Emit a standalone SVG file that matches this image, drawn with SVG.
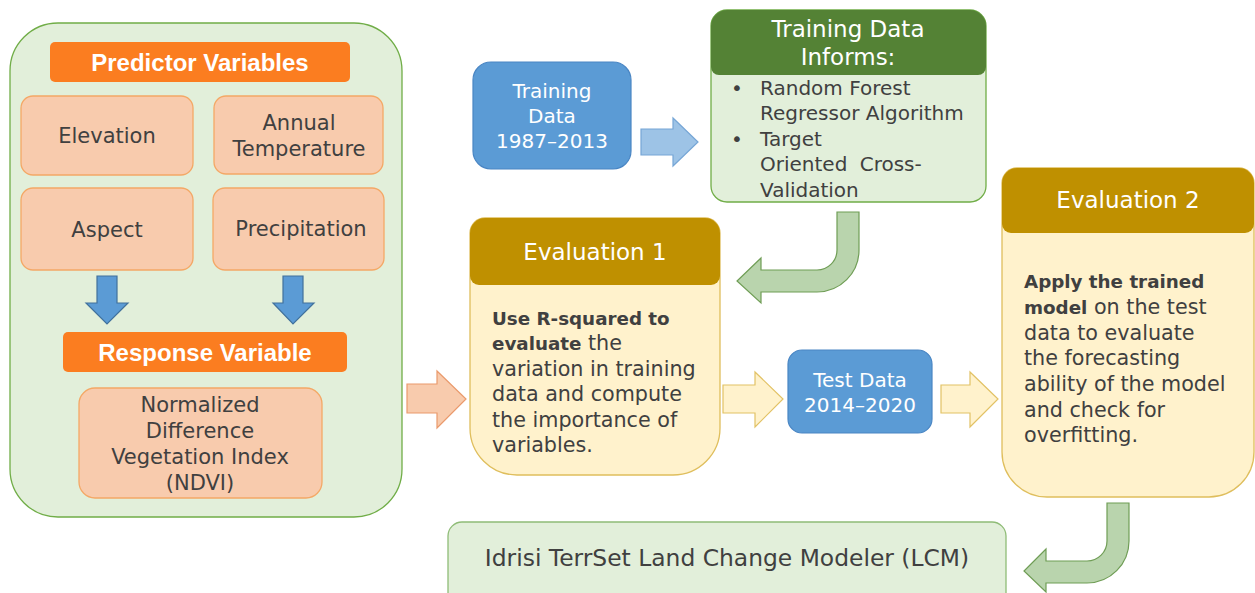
<svg xmlns="http://www.w3.org/2000/svg" width="1255" height="593" viewBox="0 0 1255 593">
  <style>
    .txt { font-family: "DejaVu Sans", "Liberation Sans", sans-serif; fill: #404040; font-size: 20px; }
    .lg { font-size: 21px; }
    .body { font-size: 20.7px; }
    .head { font-size: 23px; }
    .lcm { font-size: 23.4px; }
    .mid { text-anchor: middle; }
    .wh { fill: #ffffff; }
    .hdr { font-family: "Liberation Sans", Arial, sans-serif; font-weight: bold; font-size: 24px; fill: #ffffff; text-anchor: middle; }
    .b { font-weight: bold; font-size: 18.3px; }
    .peach { fill: #f8cbad; stroke: #f4a866; stroke-width: 1.3; }
    .orange { fill: #fb7d20; }
    .blue { fill: #5b9bd5; stroke: #4a86c4; stroke-width: 1.2; }
    .gbody { fill: #e2efda; stroke: #70ad47; stroke-width: 1.3; }
    .ybody { fill: #fff2cc; stroke: #dfbe5c; stroke-width: 1.3; }
    .gold { fill: #bf9000; }
    .uturn { fill: #b9d4ad; stroke: #6f9d55; stroke-width: 1.2; }
    .arr-salmon { fill: #f8cbad; stroke: #ea9a6c; stroke-width: 1.2; }
    .arr-yellow { fill: #fff2cc; stroke: #e2c265; stroke-width: 1.2; }
    .arr-lblue { fill: #9dc3e6; stroke: #76a6d6; stroke-width: 1.2; }
    .arr-down { fill: #5b9bd5; stroke: #41719c; stroke-width: 1.2; }
  </style>

  <!-- Left panel: predictors and response -->
  <g id="variables-panel">
    <rect x="10" y="23" width="392" height="494" rx="48" class="gbody"/>
  </g>
  <g id="predictor-header">
    <rect x="50" y="42" width="300" height="40" rx="5" class="orange"/>
    <text x="200" y="71" class="hdr">Predictor Variables</text>
  </g>
  <g id="elevation">
    <rect x="21" y="96" width="172" height="79" rx="12" class="peach"/>
    <text x="107" y="143" class="txt lg mid">Elevation</text>
  </g>
  <g id="annual-temperature">
    <rect x="214" y="96" width="169" height="78" rx="12" class="peach"/>
    <text x="299" y="130" class="txt lg mid">Annual</text>
    <text x="299" y="156" class="txt lg mid">Temperature</text>
  </g>
  <g id="aspect">
    <rect x="21" y="188" width="172" height="82" rx="12" class="peach"/>
    <text x="107" y="237" class="txt lg mid">Aspect</text>
  </g>
  <g id="precipitation">
    <rect x="213" y="188" width="171" height="82" rx="12" class="peach"/>
    <text x="301" y="236" class="txt lg mid">Precipitation</text>
  </g>
  <g id="response-header">
    <rect x="63" y="332" width="284" height="40" rx="5" class="orange"/>
    <text x="205" y="361" class="hdr">Response Variable</text>
  </g>
  <g id="ndvi">
    <rect x="79" y="388" width="243" height="110" rx="16" class="peach"/>
    <text x="200" y="412" class="txt lg mid">Normalized</text>
    <text x="200" y="438" class="txt lg mid">Difference</text>
    <text x="200" y="464" class="txt lg mid">Vegetation Index</text>
    <text x="200" y="490" class="txt lg mid">(NDVI)</text>
  </g>

  <!-- Training data -->
  <g id="training-data">
    <rect x="473" y="62" width="158" height="107" rx="18" class="blue"/>
    <text x="552" y="98" class="txt mid wh">Training</text>
    <text x="552" y="123" class="txt mid wh">Data</text>
    <text x="552" y="148" class="txt mid wh">1987–2013</text>
  </g>

  <g id="training-informs">
    <rect x="711" y="10" width="275" height="192" rx="16" class="gbody"/>
    <path d="M711,26 A16,16 0 0 1 727,10 H970 A16,16 0 0 1 986,26 V67 A8,8 0 0 1 978,75 H719 A8,8 0 0 1 711,67 Z" fill="#548235"/>
    <text x="848" y="37" class="txt head mid wh">Training Data</text>
    <text x="848" y="65" class="txt head mid wh">Informs:</text>
    <text x="731" y="95" class="txt">•</text>
    <text x="760" y="95" class="txt">Random Forest</text>
    <text x="760" y="120" class="txt">Regressor Algorithm</text>
    <text x="731" y="146" class="txt">•</text>
    <text x="760" y="146" class="txt">Target</text>
    <text x="760" y="171" class="txt" word-spacing="6">Oriented Cross-</text>
    <text x="760" y="197" class="txt">Validation</text>
  </g>

  <!-- Evaluation 1 -->
  <g id="evaluation-1">
    <path d="M470,233 A15,15 0 0 1 485,218 H705 A15,15 0 0 1 720,233 V428 A47,47 0 0 1 673,475 H517 A47,47 0 0 1 470,428 Z" class="ybody"/>
    <path d="M470,233 A15,15 0 0 1 485,218 H705 A15,15 0 0 1 720,233 V276 A9,9 0 0 1 711,285 H479 A9,9 0 0 1 470,276 Z" class="gold"/>
    <text x="595" y="260" class="txt head mid wh">Evaluation 1</text>
    <text x="492" y="325" class="txt body"><tspan class="b">Use R-squared to</tspan></text>
    <text x="492" y="350" class="txt body"><tspan class="b">evaluate</tspan> the</text>
    <text x="492" y="376" class="txt body">variation in training</text>
    <text x="492" y="401" class="txt body">data and compute</text>
    <text x="492" y="427" class="txt body">the importance of</text>
    <text x="492" y="452" class="txt body">variables.</text>
  </g>

  <!-- Test data -->
  <g id="test-data">
    <rect x="788" y="350" width="144" height="83" rx="14" class="blue"/>
    <text x="860" y="387" class="txt mid wh">Test Data</text>
    <text x="860" y="412" class="txt mid wh">2014–2020</text>
  </g>

  <!-- Evaluation 2 -->
  <g id="evaluation-2">
    <path d="M1002,183 A15,15 0 0 1 1017,168 H1239 A15,15 0 0 1 1254,183 V452 A45,45 0 0 1 1209,497 H1047 A45,45 0 0 1 1002,452 Z" class="ybody"/>
    <path d="M1002,183 A15,15 0 0 1 1017,168 H1239 A15,15 0 0 1 1254,183 V224 A9,9 0 0 1 1245,233 H1011 A9,9 0 0 1 1002,224 Z" class="gold"/>
    <text x="1128" y="208" class="txt head mid wh">Evaluation 2</text>
    <text x="1024" y="288" class="txt body"><tspan class="b">Apply the trained</tspan></text>
    <text x="1024" y="314" class="txt body"><tspan class="b">model</tspan> on the test</text>
    <text x="1024" y="340" class="txt body">data to evaluate</text>
    <text x="1024" y="365" class="txt body">the forecasting</text>
    <text x="1024" y="391" class="txt body">ability of the model</text>
    <text x="1024" y="417" class="txt body">and check for</text>
    <text x="1024" y="442" class="txt body">overfitting.</text>
  </g>

  <!-- Land change modeler -->
  <g id="lcm">
    <rect x="448" y="522" width="558" height="90" rx="14" class="gbody" style="stroke:#8fbc77"/>
    <text x="727" y="566" class="txt lcm mid">Idrisi TerrSet Land Change Modeler (LCM)</text>
  </g>

  <!-- Connectors -->
  <g id="connectors">
    <path d="M97,276 H117 V303 H128 L107,324 L86,303 H97 Z" class="arr-down"/>
    <path d="M283,276 H303 V303 H314 L293,324 L273,303 H283 Z" class="arr-down"/>
    <path d="M641,129 H673 V118 L698,142 L673,166 V155 H641 Z" class="arr-lblue"/>
    <path d="M837,212 H859 V250 A42,42 0 0 1 817,292 H761 V303 L737,281 L761,258 V270 H817 A20,20 0 0 0 837,250 Z" class="uturn"/>
    <path d="M407,384 H437 V371 L466,399 L437,428 V413 H407 Z" class="arr-salmon"/>
    <path d="M723,385 H755 V372 L783,399 L755,427 V413 H723 Z" class="arr-yellow"/>
    <path d="M941,385 H970 V372 L998,399 L970,427 V413 H941 Z" class="arr-yellow"/>
    <path d="M1107,503 H1129 V541 A42,42 0 0 1 1087,583 H1046 V592 L1024,571 L1046,549 V561 H1087 A20,20 0 0 0 1107,541 Z" class="uturn"/>
  </g>
</svg>
